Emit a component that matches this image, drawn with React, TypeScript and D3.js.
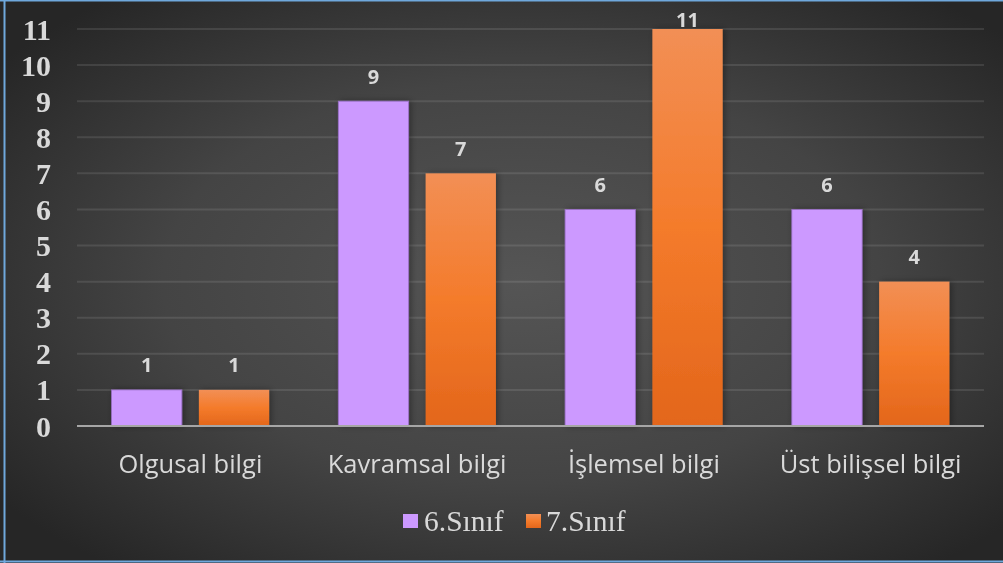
import React from "react";
import * as d3 from "d3";

const categories = ["Olgusal bilgi", "Kavramsal bilgi", "İşlemsel bilgi", "Üst bilişsel bilgi"];
const series6 = [1, 9, 6, 6];
const series7 = [1, 7, 11, 4];
const seriesNames = ["6.Sınıf", "7.Sınıf"];
const yTicks = d3.range(0, 12);

const W = 1003;
const H = 563;
const plotLeft = 77;
const plotRight = 984;
const plotTop = 29;
const plotBottom = 426;

export default function App() {
  const x0 = d3.scaleBand<string>().domain(categories).range([plotLeft, plotRight]).paddingInner(0).paddingOuter(0);
  const y = d3.scaleLinear().domain([0, 11]).range([plotBottom, plotTop]);
  const band = x0.bandwidth();
  const barW = band * 0.31;
  const gap = band * 0.075;
  const groupW = barW * 2 + gap;
  const x1 = d3.scaleOrdinal<number, number>().domain([0, 1]).range([0, barW + gap]);

  const data = [series6, series7];
  const labelFill = "#d9d9d9";

  return (
    <div style={{ position: "fixed", left: 0, top: 0, width: W, height: H }}>
      <svg width={W} height={H} style={{ display: "block" }}>
        <defs>
          <radialGradient id="bg" cx="52%" cy="50%" r="65%">
            <stop offset="0%" stopColor="#555555" />
            <stop offset="55%" stopColor="#444444" />
            <stop offset="100%" stopColor="#262626" />
          </radialGradient>
          <linearGradient id="orange" x1="0" y1="0" x2="0" y2="1">
            <stop offset="0%" stopColor="#F28F55" />
            <stop offset="50%" stopColor="#F47B2B" />
            <stop offset="100%" stopColor="#E3661B" />
          </linearGradient>
          <filter id="shadow" x="-20%" y="-20%" width="140%" height="140%">
            <feDropShadow dx="2" dy="0" stdDeviation="3" floodColor="#000" floodOpacity="0.35" />
          </filter>
        </defs>
        <rect x={0} y={0} width={W} height={H} fill="url(#bg)" />
        {/* border */}
        <line x1={4.5} y1={0} x2={4.5} y2={H} stroke="#6FA8DC" strokeWidth={2} />
        <line x1={0} y1={0.75} x2={W} y2={0.75} stroke="#6FA8DC" strokeWidth={1.5} />
        <line x1={0} y1={561.5} x2={W} y2={561.5} stroke="#6FA8DC" strokeWidth={2} />

        {/* gridlines */}
        {yTicks.filter((t) => t > 0).map((t) => (
          <line key={t} x1={plotLeft} x2={plotRight} y1={y(t)} y2={y(t)} stroke="#ffffff" strokeOpacity={0.1} strokeWidth={2} />
        ))}

        {/* y labels */}
        {yTicks.map((t) => (
          <text
            key={"yl" + t}
            x={51}
            y={y(t)}
            textAnchor="end"
            dominantBaseline="central"
            fontFamily="'Liberation Serif', 'Times New Roman', serif"
            fontWeight="bold"
            fontSize={30}
            fill={labelFill}
          >
            {t}
          </text>
        ))}

        {/* bars */}
        {categories.map((c, ci) => {
          const gx = (x0(c) as number) + (band - groupW) / 2;
          return (
            <g key={c}>
              {data.map((s, si) => {
                const bx = gx + x1(si);
                const by = y(s[ci]);
                const bh = plotBottom - by;
                return (
                  <g key={si}>
                    <rect
                      x={bx}
                      y={by}
                      width={barW}
                      height={bh}
                      fill={si === 0 ? "#CC99FF" : "url(#orange)"}
                      stroke={si === 0 ? "#9A70C8" : "none"}
                      strokeWidth={si === 0 ? 0.8 : 0}
                      filter="url(#shadow)"
                    />
                    <text
                      x={bx + barW / 2}
                      y={Math.max(by - 25, 19)}
                      textAnchor="middle"
                      dominantBaseline="central"
                      fontFamily="'Open Sans', sans-serif"
                      fontWeight="bold"
                      fontSize={20}
                      fill={labelFill}
                    >
                      {s[ci]}
                    </text>
                  </g>
                );
              })}
            </g>
          );
        })}

        {/* baseline */}
        <line x1={plotLeft} x2={plotRight} y1={plotBottom} y2={plotBottom} stroke="#A6A6A6" strokeWidth={2} />

        {/* category labels */}
        {categories.map((c) => (
          <text
            key={"cl" + c}
            x={(x0(c) as number) + band / 2}
            y={463}
            textAnchor="middle"
            dominantBaseline="central"
            fontFamily="'Open Sans', sans-serif"
            fontSize={25.5}
            fill={labelFill}
          >
            {c}
          </text>
        ))}

        {/* legend */}
        <rect x={403} y={514} width={15} height={14} fill="#CC99FF" />
        <text x={424} y={531} fontFamily="'Liberation Serif', 'Times New Roman', serif" fontSize={29.5} fill={labelFill}>
          {seriesNames[0]}
        </text>
        <rect x={526} y={514} width={15} height={14} fill="url(#orange)" />
        <text x={546} y={531} fontFamily="'Liberation Serif', 'Times New Roman', serif" fontSize={29.5} fill={labelFill}>
          {seriesNames[1]}
        </text>
      </svg>
    </div>
  );
}
